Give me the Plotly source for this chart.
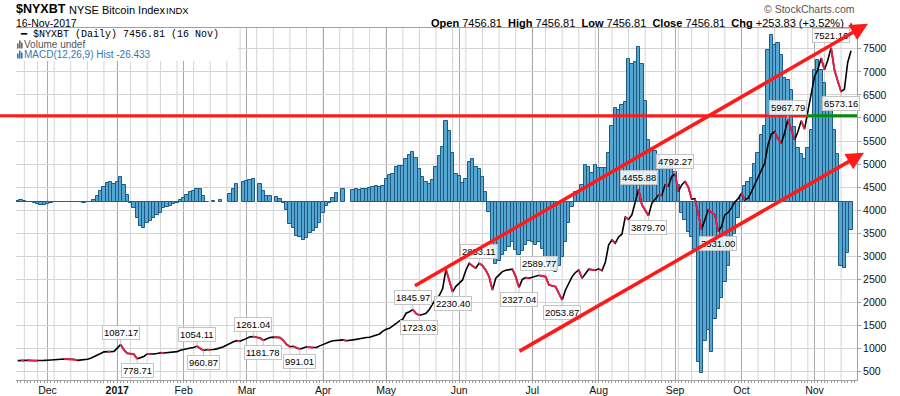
import pandas as pd
import plotly.graph_objects as go

# ---------------- data ----------------
START, END = "2016-11-17", "2017-11-16"
HOLIDAYS = ["2016-11-24", "2016-12-26", "2017-01-02", "2017-01-16", "2017-02-20",
            "2017-04-14", "2017-05-29", "2017-07-04", "2017-09-04"]
MONTH_TEXT = ["Dec", "<b>2017</b>", "Feb", "Mar", "Apr", "May", "Jun", "Jul", "Aug", "Sep", "Oct", "Nov"]
PRICE_TICKS = [500, 1000, 1500, 2000, 2500, 3000, 3500, 4000, 4500, 5000, 5500, 6000, 6500, 7000, 7500]

CLOSE_NOV16 = [740, 745, 738, 748, 742, 740, 735, 738, 745]
CLOSE_DEC16 = [748, 755, 760, 762, 768, 775, 772, 770, 765, 745, 748, 755, 770, 790, 820, 855, 895, 930, 935, 930, 940]
CLOSE_JAN = [1010, 1087.17, 975, 900, 890, 880, 778.71, 805, 830, 884, 880, 885, 895, 910, 905, 915, 918, 920, 935, 965]
CLOSE_FEB = [985, 1005, 1015, 1025, 1054.11, 1000, 960.87, 975, 970, 980, 995, 1010, 1040, 1080, 1120, 1150, 1172, 1160, 1190]
CLOSE_MAR = [1225, 1255, 1261.04, 1245, 1230, 1181.78, 1215, 1240, 1250, 1245, 1240, 1180, 1090, 1040, 1050, 1020,
             991.01, 1015, 1040, 1030, 1020, 1025, 1060]
CLOSE_APR = [1090, 1130, 1150, 1170, 1175, 1180, 1190, 1170, 1175, 1180, 1200, 1215, 1235, 1240, 1246, 1270, 1290, 1318, 1380]
CLOSE_MAY = [1420, 1441, 1500, 1550, 1600, 1637, 1767, 1800, 1845.97, 1760, 1723.03, 1740, 1767, 1850, 1980, 2090,
             2150, 2300, 2720, 2450, 2230.40, 2350]
CLOSE_JUN = [2420, 2489, 2700, 2850, 2790, 2743, 2853.11, 2800, 2700, 2561, 2272, 2526, 2600, 2669, 2700, 2710,
             2721, 2561, 2327.04, 2500, 2540, 2526]
CLOSE_JUL = [2550, 2561, 2589.77, 2570, 2561, 2381, 2360, 2344, 2200, 2053.87, 2272, 2420, 2561, 2650, 2706, 2526,
             2620, 2721, 2710, 2700]
CLOSE_AUG = [2730, 2691, 2870, 3250, 3357, 3285, 3420, 3480, 3850, 3800, 3900, 4190, 4455.88, 4120, 4010, 3879.70,
             4150, 4250, 4330, 4320, 4550, 4520, 4730]
CLOSE_SEP = [4792.27, 4405, 4550, 4622, 4500, 4240, 4250, 3900, 3580, 3800, 4010, 3950, 3899, 3531.00, 3650, 3899,
             3950, 4050, 4180, 4250]
CLOSE_OCT = [4370, 4225, 4260, 4400, 4550, 4700, 4840, 5020, 5418, 5650, 5700, 5550, 5450, 5680, 5967.79, 5750,
             5526, 5700, 5940, 5760, 6150, 6466]
CLOSE_NOV17 = [6900, 7045, 7300, 7045, 7250, 7521.16, 7045, 6800, 6573.16, 6620, 7202.98, 7456.81]

HIST_A = [0.5, 1.3, 0.8, 0.0, -0.6, -1.6, -2.5, -3.4, -3.4, -2.5, -1.6, -0.6, 0, 0, 0, 0, 0, 0, 0, 0,
          -1.2, -0.3, -0.6, 1.6, 5.3, 10.0, 13.7, 17.4, 18.4, 16.5, 18.4, 22.7, 15.6, 6.2, -1.6, -6.2, -15.6,
          -23.1, -24.9, -19.9, -18.1, -15.6, -12.8, -10.6, -6.2, -5.0, -4.0, -2.5, -1.6, 1.6]
HIST_B = [3.4, 6.2, 9.0, 10.3, 11.5, 11.5, 5.3, 0.0, None, 0.3, None, 1.3, None, None, 7.2, 11.5, 17.0, None,
          18.0, 19.0, 19.9, 20.9, None, 17.0, 10.3, 5.0, 5.0, None, 4.0, 2.2, -1.2, -8.1, -21.0, -24.9, -32.4,
          -33.3, -35.8, -33.6, -29.5, -27.4, -24.9, -19.6, -10.9, -4.0, -1.0, 3.8, 7.8, None, 11.6, None]
HIST_C = [None, 10.9, 11.6, 10.9, 11.6, 11.6, 12.5, 13.4, 14.8, 14.2, 14.8, 20.9, 25.0, 26.0, 32.0, 33.3, 33.3,
          39.6, 43.6, 46.2, 40.5, 30.3, 22.8, 18.7, 16.3, 20.3, 32.0, 42.7, 50.8, 75.7, 66.0, 45.2, 26.0, 24.0,
          17.2, 20.9, 36.8, 39.6, 32.0, 31.0, 22.8, 8.8, -9.3, -45, -58, -55, -50, -46, -42, -38]
HIST_D = [-45, -50, -46, -40, -37, -38, -40, -38, -44, -52, -60, -65, -66, -60, -52, -38, -20, -5, 9.3, 9.3,
          15.6, 34.3, 32.7, 27.1, 34.3, 31.2, 31.2, 31.2, 45.2, 70.7, 87.3, 85.7, 90.4, 93.5, 133.0, 128.7,
          130.8, 144.3, 128.7, 94.1, 57.7, 48.3, 47.7, 42.4, 35.9, 39.0, 32.7, 35.9, 28.0, 15.6]
HIST_E = [-10.9, -17, -28, -33, -45, -150, -160, -130, -120, -140, -110, -100, -90, -75, -60, -45, -30, -15,
          5, 15, 18, 22, 35, 45.2, 62.3, 70.7, 141.8, 155.8, 146.4, 148.0, 137.0, 115.2, 113.7, 104.4, 70.0,
          50.0, 45, 40, 50, 67.0, 123.1, 132.4, 123.1, 110.6, 95.0, 87.3, 67.0, 45.0, -60, -62, -48, -26.433]

# labelled closes: (value, +1 label above / -1 label below)
LABELS = [(1087.17, 1), (778.71, -1), (1054.11, 1), (960.87, -1), (1261.04, 1), (1181.78, -1), (991.01, -1),
          (1845.97, 1), (1723.03, -1), (2230.40, -1), (2853.11, 1), (2327.04, -1), (2589.77, 1), (2053.87, -1),
          (4455.88, 1), (3879.70, -1), (4792.27, 1), (3531.00, -1), (5967.79, 1), (7521.16, 1), (6573.16, -1)]
HLINE_LEVEL = 6050
GREEN_FROM = "2017-10-30"
UPPER_CHANNEL = [(119.2, 2344), (256.1, 8042)]
LOWER_CHANNEL = [(150.7, 927), (254.9, 5244)]

# ---------------- derived ----------------
dates = pd.bdate_range(START, END)
dates = dates[~dates.isin(pd.to_datetime(HOLIDAYS))]
close = (CLOSE_NOV16 + CLOSE_DEC16 + CLOSE_JAN + CLOSE_FEB + CLOSE_MAR + CLOSE_APR + CLOSE_MAY + CLOSE_JUN
         + CLOSE_JUL + CLOSE_AUG + CLOSE_SEP + CLOSE_OCT + CLOSE_NOV17)
hist = HIST_A + HIST_B + HIST_C + HIST_D + HIST_E
n = len(dates)
assert len(close) == n and len(hist) == n, (len(close), len(hist), n)
idx = list(range(n))
pos = {d.strftime("%Y-%m-%d"): i for i, d in enumerate(dates)}

month_idx = [i for i in range(1, n) if dates[i].month != dates[i - 1].month]
week_idx = [i for i in range(1, n) if dates[i].weekday() < dates[i - 1].weekday() or (dates[i] - dates[i - 1]).days > 3]

W, H = 900, 396
L, R, T, B = 16, 857, 28, 380
XR = [-0.5, 252.8]
Y2R = [320, 7950]
Y1R = [-166.6, 162.3]


def px(x):
    return (x - L) / (R - L)


def py(y):
    return (B - y) / (B - T)


def xpaper(i):
    return (i - XR[0]) / (XR[1] - XR[0])


fig = go.Figure()

fig.add_trace(go.Bar(x=idx, y=hist, width=1.0, yaxis="y",
                     marker=dict(color="#55a6d0", line=dict(color="#1d5b84", width=1)),
                     hoverinfo="skip", showlegend=False))

fig.add_trace(go.Scatter(x=idx, y=close, yaxis="y2", mode="lines",
                         line=dict(color="#000000", width=1.6), showlegend=False))
rx, ry = [], []
for i in range(1, n):
    if close[i] < close[i - 1]:
        if rx and rx[-1] == i - 1:
            rx.append(i); ry.append(close[i])
        else:
            if rx:
                rx.append(None); ry.append(None)
            rx += [i - 1, i]; ry += [close[i - 1], close[i]]
fig.add_trace(go.Scatter(x=rx, y=ry, yaxis="y2", mode="lines",
                         line=dict(color="#ec1c48", width=1.9), showlegend=False, connectgaps=False))

shapes = []
for i in week_idx:
    shapes.append(dict(type="line", xref="x", yref="paper", x0=i, x1=i, y0=0, y1=1, layer="below",
                       line=dict(color="#d4d4d4", width=1)))
# legend box
shapes.append(dict(type="rect", xref="paper", yref="paper", x0=px(L + 0.5), x1=px(238), y0=py(61), y1=py(T + 0.5),
                   fillcolor="white", line=dict(width=0), layer="above"))
# horizontal level line
gx = xpaper(pos[GREEN_FROM])
shapes.append(dict(type="line", xref="paper", yref="y2", x0=px(0), x1=gx, y0=HLINE_LEVEL, y1=HLINE_LEVEL,
                   line=dict(color="#ff1a1a", width=3), layer="above"))
shapes.append(dict(type="line", xref="paper", yref="y2", x0=gx, x1=1, y0=HLINE_LEVEL, y1=HLINE_LEVEL,
                   line=dict(color="#0a8a0a", width=3), layer="above"))


def icon(x0, yc, color):
    out = []
    for k, h in enumerate([5, 8, 6]):
        out.append(dict(type="rect", xref="paper", yref="paper", x0=px(x0 + k * 2), x1=px(x0 + k * 2 + 1.6),
                        y0=py(yc + 4), y1=py(yc + 4 - h), fillcolor=color, line=dict(width=0), layer="above"))
    return out


shapes += icon(17, 44.5, "#666666")
shapes += icon(17, 54.5, "#2f79b8")

ann = []
FONT = "Liberation Sans, Arial, sans-serif"
# header
ann.append(dict(xref="paper", yref="paper", x=px(14), y=py(9), xanchor="left", yanchor="middle", showarrow=False,
                text="<b>$NYXBT</b>", font=dict(family=FONT, size=12.5, color="#000")))
ann.append(dict(xref="paper", yref="paper", x=px(67), y=py(9.5), xanchor="left", yanchor="middle", showarrow=False,
                text="NYSE Bitcoin Index", font=dict(family=FONT, size=11, color="#000")))
ann.append(dict(xref="paper", yref="paper", x=px(164), y=py(10), xanchor="left", yanchor="middle", showarrow=False,
                text="INDX", font=dict(family=FONT, size=9.5, color="#000")))
ann.append(dict(xref="paper", yref="paper", x=px(14), y=py(23), xanchor="left", yanchor="middle", showarrow=False,
                text=dates[-1].strftime("%d-%b-%Y"), font=dict(family=FONT, size=10.5, color="#000")))
ann.append(dict(xref="paper", yref="paper", x=px(857), y=py(9), xanchor="right", yanchor="middle", showarrow=False,
                text="© StockCharts.com", font=dict(family=FONT, size=10.5, color="#555")))
last, prev = close[-1], close[-2]
chg = last - prev
hdr = ("<b>Open</b> {0:.2f}  <b>High</b> {0:.2f}  <b>Low</b> {0:.2f}  <b>Close</b> {0:.2f}  "
       "<b>Chg</b> {1:+.2f} ({2:+.2f}%) <span style='font-size:8px;color:#555'>▲</span>").format(last, chg, chg / prev * 100)
ann.append(dict(xref="paper", yref="paper", x=px(857), y=py(22.5), xanchor="right", yanchor="middle", showarrow=False,
                text=hdr, font=dict(family=FONT, size=11, color="#000")))
# legend
ann.append(dict(xref="paper", yref="paper", x=px(18), y=py(34.5), xanchor="left", yanchor="middle", showarrow=False,
                text="━ $NYXBT (Daily) {:.2f} ({})".format(last, dates[-1].strftime("%d %b").lstrip("0")),
                font=dict(family="Liberation Mono, DejaVu Sans Mono, monospace", size=10, color="#000")))
ann.append(dict(xref="paper", yref="paper", x=px(22), y=py(44.5), xanchor="left", yanchor="middle", showarrow=False,
                text="Volume undef", font=dict(family=FONT, size=10, color="#555")))
ann.append(dict(xref="paper", yref="paper", x=px(22), y=py(54.5), xanchor="left", yanchor="middle", showarrow=False,
                text="MACD(12,26,9) Hist {:.3f}".format(hist[-1]), font=dict(family=FONT, size=10, color="#2f79b8")))
# price labels
for v, s in LABELS:
    i = close.index(v)
    ann.append(dict(xref="x", yref="y2", x=i, y=close[i], text="{:.2f}".format(close[i]), showarrow=True,
                    arrowhead=0, arrowwidth=1, arrowcolor="#c4c4c4", ax=0, ay=-12 * s, standoff=0,
                    bgcolor="rgba(255,255,255,0.85)", bordercolor="#c4c4c4", borderwidth=1, borderpad=1,
                    font=dict(family=FONT, size=9.5, color="#000")))
# channel arrows
for (x0, y0), (x1, y1) in (UPPER_CHANNEL, LOWER_CHANNEL):
    ann.append(dict(xref="x", yref="y2", axref="x", ayref="y2", x=x1, y=y1, ax=x0, ay=y0, text="",
                    showarrow=True, arrowhead=2, arrowsize=1, arrowwidth=3.5, arrowcolor="#ff1a1a", standoff=0))

fig.update_layout(
    width=W, height=H, margin=dict(l=L, r=W - R, t=T, b=H - B, autoexpand=False),
    paper_bgcolor="white", plot_bgcolor="white", bargap=0, showlegend=False,
    shapes=shapes, annotations=ann,
    xaxis=dict(range=XR, tickmode="array", tickvals=month_idx, ticktext=MONTH_TEXT, showgrid=True,
               gridcolor="#a9a9a9", gridwidth=1, zeroline=False, showline=True, linecolor="#a0a0a0",
               mirror=True, ticks="", automargin=False, tickfont=dict(family=FONT, size=10.5, color="#111"),
               minor=dict(dtick=1, tick0=0, ticks="outside", ticklen=2, tickcolor="#9a9a9a", showgrid=False)),
    yaxis=dict(range=Y1R, visible=False, showgrid=False, zeroline=False, automargin=False),
    yaxis2=dict(range=Y2R, overlaying="y", side="right", tickvals=PRICE_TICKS, showgrid=True,
                gridcolor="#d4d4d4", gridwidth=1, zeroline=False, showline=True, linecolor="#a0a0a0",
                ticks="outside", ticklen=3, tickcolor="#a0a0a0", automargin=False,
                tickfont=dict(family=FONT, size=10.5, color="#111")),
)

fig.write_html("out.html", config={"displayModeBar": False},
               post_script="document.body.style.margin='0px';")
